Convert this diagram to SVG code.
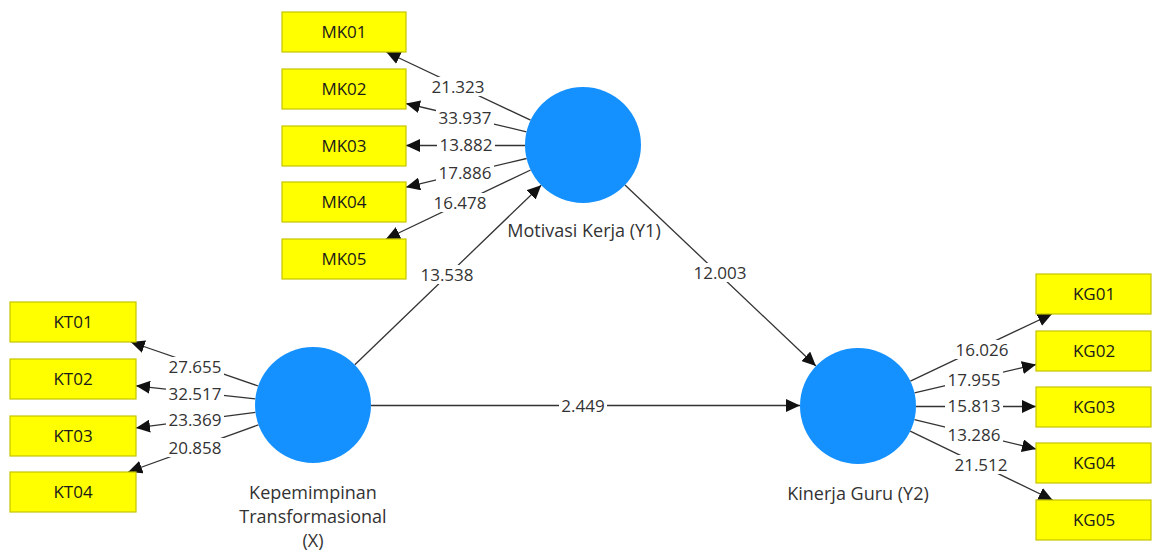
<svg xmlns="http://www.w3.org/2000/svg" width="1153" height="552" viewBox="0 0 1153 552">
<style>
.ind rect{fill:#ffff00;stroke:#c4c400;stroke-width:1.2}
.ind text{font-family:"Open Sans","Noto Sans",sans-serif;font-size:17px;fill:#1a1a1a;text-anchor:middle}
.lv circle{fill:#1591ff}
.lv text{font-family:"Open Sans","Noto Sans",sans-serif;font-size:18px;fill:#333;text-anchor:middle}
.cn line{stroke:#333;stroke-width:1.3;marker-end:url(#ah)}
.lb rect{fill:#fff}
.lb text{font-family:"Open Sans","Noto Sans",sans-serif;font-size:17px;fill:#333;text-anchor:middle}
</style>
<defs>
<marker id="ah" markerUnits="userSpaceOnUse" markerWidth="15" markerHeight="13" refX="14" refY="6.5" orient="auto">
<path d="M0,0 L14,6.5 L0,13 z" fill="#111"/>
</marker>
</defs>
<rect width="1153" height="552" fill="#fff"/>
<g id="connectors" class="cn">
<line x1="530.6" y1="120.2" x2="386.3" y2="52"/>
<line x1="526.5" y1="131.8" x2="406" y2="103.5"/>
<line x1="525" y1="145.5" x2="406" y2="145.5"/>
<line x1="526.6" y1="158.5" x2="406" y2="187.2"/>
<line x1="530.6" y1="170" x2="386" y2="239"/>
<line x1="354.8" y1="364.8" x2="541.2" y2="185.2"/>
<line x1="625" y1="185" x2="815.9" y2="366"/>
<line x1="371" y1="405.5" x2="800" y2="405.5"/>
<line x1="258.2" y1="386" x2="130.8" y2="342"/>
<line x1="255.3" y1="398.8" x2="136" y2="385.8"/>
<line x1="255.5" y1="412.4" x2="136" y2="427.9"/>
<line x1="258.5" y1="424.8" x2="128.2" y2="472"/>
<line x1="910.4" y1="381.1" x2="1051.9" y2="314"/>
<line x1="914.5" y1="392.8" x2="1036" y2="364.5"/>
<line x1="916" y1="406.5" x2="1036" y2="406.5"/>
<line x1="914.4" y1="419.6" x2="1036" y2="449"/>
<line x1="910.2" y1="431.2" x2="1052.6" y2="500"/>
</g>
<g id="labels" class="lb">
<rect x="429" y="77" width="58" height="19"/><text x="458" y="92.5">21.323</text>
<rect x="436" y="108" width="58" height="19"/><text x="465" y="124">33.937</text>
<rect x="437" y="135" width="58" height="19"/><text x="466" y="150.5">13.882</text>
<rect x="436" y="163" width="58" height="19"/><text x="465" y="179">17.886</text>
<rect x="431" y="193" width="58" height="19"/><text x="460" y="208.5">16.478</text>
<rect x="418" y="265" width="58" height="19"/><text x="447" y="281">13.538</text>
<rect x="691" y="263" width="58" height="19"/><text x="720" y="278.5">12.003</text>
<rect x="559" y="396" width="48" height="19"/><text x="583" y="412">2.449</text>
<rect x="166" y="357" width="58" height="19"/><text x="195" y="373">27.655</text>
<rect x="166" y="384" width="58" height="19"/><text x="195" y="400">32.517</text>
<rect x="166" y="410" width="58" height="19"/><text x="195" y="425.5">23.369</text>
<rect x="166" y="438" width="58" height="19"/><text x="195" y="453.5">20.858</text>
<rect x="953" y="340" width="58" height="19"/><text x="982" y="356">16.026</text>
<rect x="945" y="370" width="58" height="19"/><text x="974" y="386">17.955</text>
<rect x="945" y="396" width="58" height="19"/><text x="974" y="411.5">15.813</text>
<rect x="945" y="425" width="58" height="19"/><text x="974" y="441">13.286</text>
<rect x="952" y="455" width="58" height="19"/><text x="981" y="471">21.512</text>
</g>
<g id="MK01" class="ind"><rect x="282" y="12" width="124" height="40"/><text x="344" y="38">MK01</text></g>
<g id="MK02" class="ind"><rect x="282" y="69" width="124" height="40"/><text x="344" y="95">MK02</text></g>
<g id="MK03" class="ind"><rect x="282" y="126" width="124" height="40"/><text x="344" y="152">MK03</text></g>
<g id="MK04" class="ind"><rect x="282" y="182" width="124" height="40"/><text x="344" y="208">MK04</text></g>
<g id="MK05" class="ind"><rect x="282" y="239" width="124" height="40"/><text x="344" y="265">MK05</text></g>
<g id="KT01" class="ind"><rect x="10" y="302" width="126" height="40"/><text x="73" y="328">KT01</text></g>
<g id="KT02" class="ind"><rect x="10" y="359" width="126" height="40"/><text x="73" y="385">KT02</text></g>
<g id="KT03" class="ind"><rect x="10" y="416" width="126" height="40"/><text x="73" y="442">KT03</text></g>
<g id="KT04" class="ind"><rect x="10" y="472" width="126" height="40"/><text x="73" y="498">KT04</text></g>
<g id="KG01" class="ind"><rect x="1036" y="274" width="115" height="40"/><text x="1094" y="300">KG01</text></g>
<g id="KG02" class="ind"><rect x="1036" y="331" width="115" height="40"/><text x="1094" y="357">KG02</text></g>
<g id="KG03" class="ind"><rect x="1036" y="387" width="115" height="40"/><text x="1094" y="413">KG03</text></g>
<g id="KG04" class="ind"><rect x="1036" y="443" width="115" height="40"/><text x="1094" y="469">KG04</text></g>
<g id="KG05" class="ind"><rect x="1036" y="500" width="115" height="40"/><text x="1094" y="526">KG05</text></g>
<g id="Y1" class="lv"><circle cx="583" cy="145" r="58"/><text x="584" y="237">Motivasi Kerja (Y1)</text></g>
<g id="X" class="lv"><circle cx="313" cy="405" r="58"/><text x="313" y="499">Kepemimpinan</text><text x="313" y="523">Transformasional</text><text x="313" y="547">(X)</text></g>
<g id="Y2" class="lv"><circle cx="858" cy="406" r="58"/><text x="858" y="500">Kinerja Guru (Y2)</text></g>
</svg>
